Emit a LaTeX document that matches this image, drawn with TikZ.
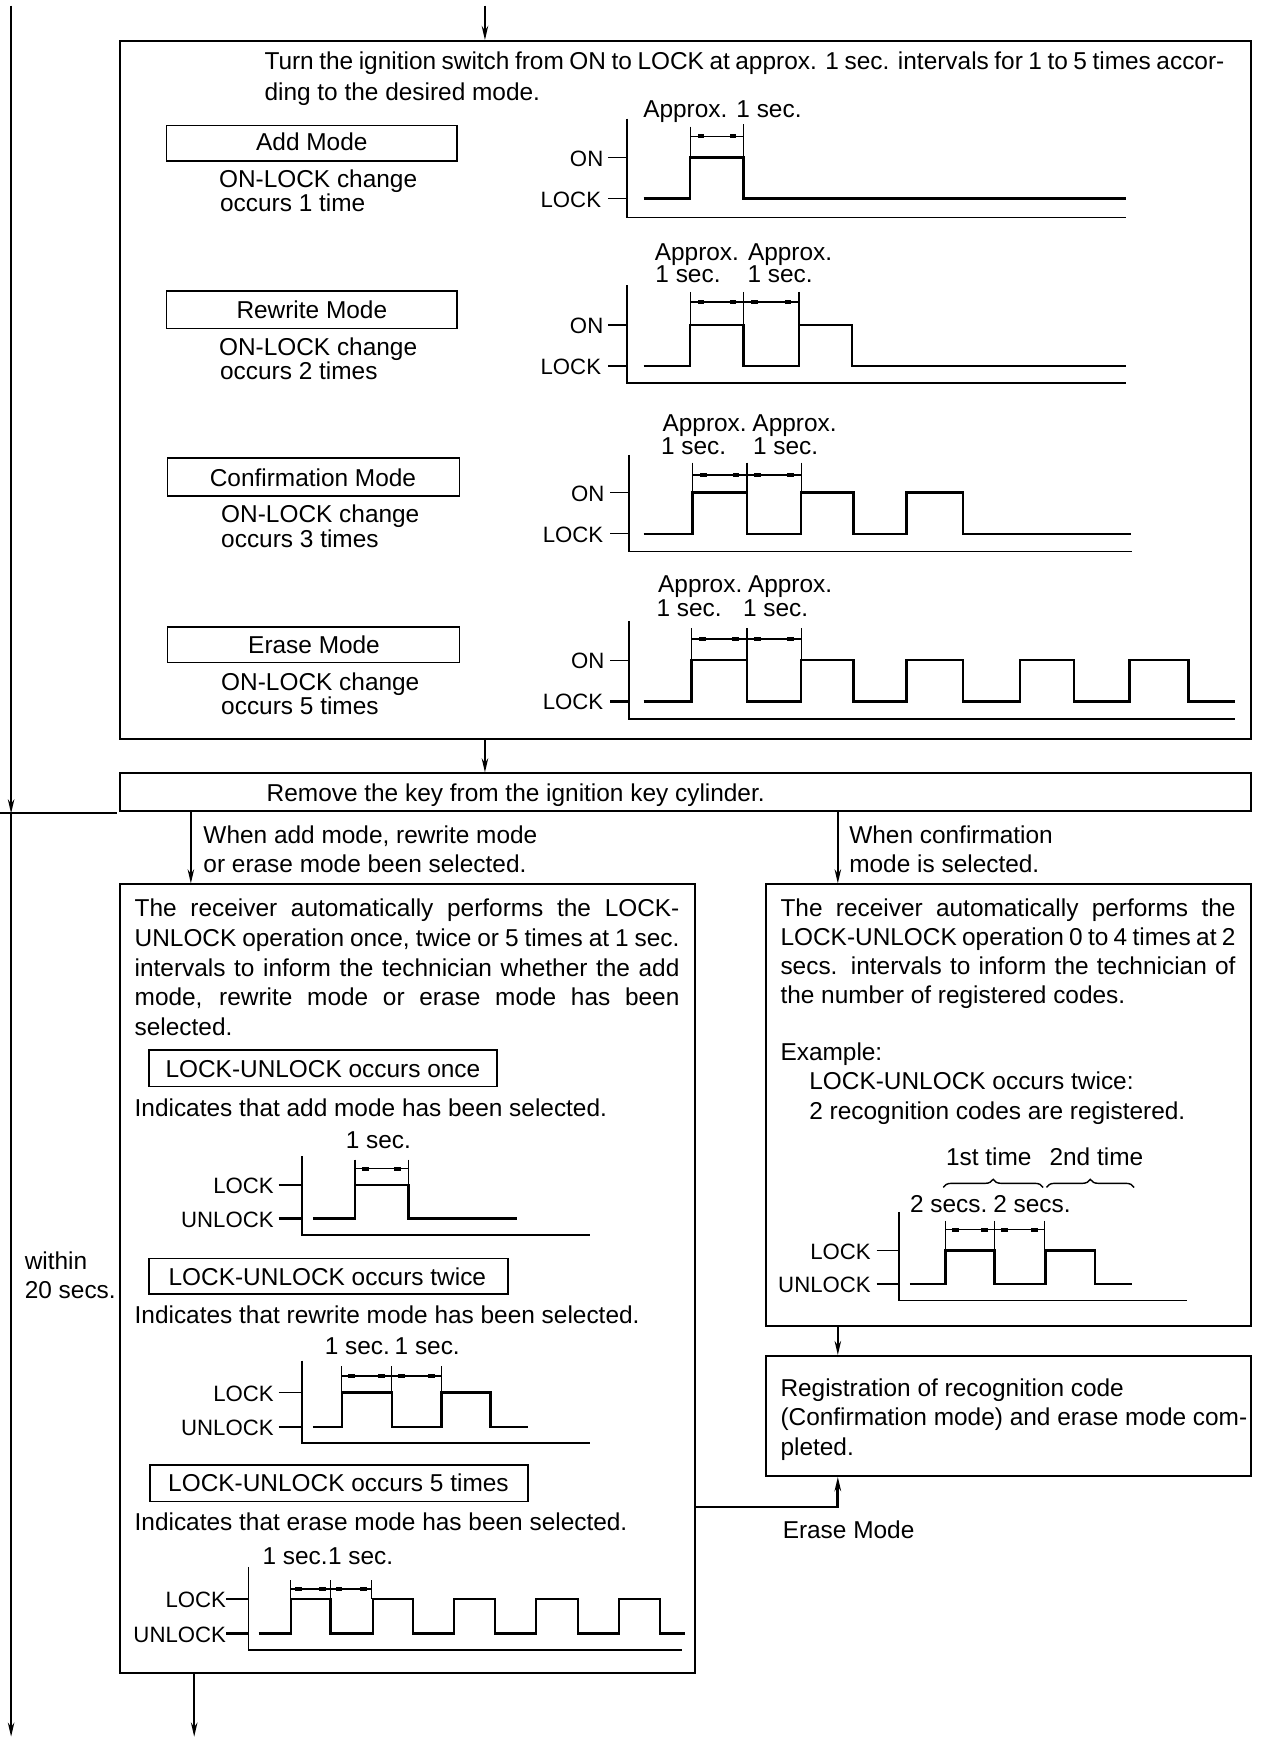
\documentclass[tikz,border=0pt]{standalone}
\usepackage{fontspec}
\setmainfont{Liberation Sans}
\usetikzlibrary{arrows.meta,fit,decorations.pathreplacing}
\newcommand\dimline[3]{% y, x1, x2
  \draw[tick] (#2,#1) -- (#3,#1);
  \fill ({#2+0.2*(#3-#2)-3},{#1-1.8}) rectangle ++(6,3.6);
  \fill ({#2+0.8*(#3-#2)-3},{#1-1.8}) rectangle ++(6,3.6);
}
\newcommand\jl[2]{\makebox[#1][s]{#2}}
\begin{document}
\begin{tikzpicture}[x=0.55pt,y=-0.55pt,
  font=\fontsize{12.1}{14}\selectfont,
  bx/.style={draw, line width=1pt, inner sep=0pt},
  sbx/.style={draw, line width=0.8pt, inner sep=0pt},
  arr/.style={line width=1pt, -{Stealth[length=7pt,width=3.2pt]}},
  wave/.style={line width=1.2pt},
  axis/.style={line width=0.9pt},
  tick/.style={line width=0.7pt},
  txt/.style={inner sep=0pt, anchor=base west, yshift=-1.1pt},
  ctxt/.style={inner sep=0pt, anchor=base, yshift=-1.1pt},
  lab/.style={inner sep=0pt, anchor=east, yshift=-0.5pt, font=\fontsize{11}{13}\selectfont},
]
\useasboundingbox (0,0) rectangle (1139,1568);
\fill[white] (0,0) rectangle (1139,1568);

% ---------- main boxes ----------
\node[bx, fit={(108,37) (1127,666)}] (top) {};
\node[bx, fit={(108,697) (1127,731)}] (rem) {};
\node[bx, fit={(108,797) (626,1508)}] (lbox) {};
\node[bx, fit={(690,797) (1127,1195)}] (rbox) {};
\node[bx, fit={(690,1222) (1127,1330)}] (reg) {};

% ---------- connectors ----------
\coordinate (start) at (437,5);
\coordinate (cx) at (437,0);
\coordinate (lx) at (172,0);
\coordinate (rx) at (755,0);
\draw[arr] (start) -- (top.north -| cx);
\draw[arr] (top.south -| cx) -- (rem.north -| cx);
\draw[arr] (rem.south -| lx) -- (lbox.north -| lx);
\draw[arr] (rem.south -| rx) -- (rbox.north -| rx);
\draw[arr] (rbox.south -| rx) -- (reg.north -| rx);
\coordinate (ebend) at (755,1358);
\draw[arr, line width=1.4pt] (lbox.east |- ebend) -- (ebend) -- (reg.south -| rx);
\coordinate (lend) at (175,1565);
\draw[arr] (lbox.south -| lend) -- (lend);
\coordinate (L0) at (10,5);
\coordinate (L1) at (10,733);
\coordinate (L2) at (10,1565);
\draw[arr] (L0) -- (L1);
\draw[arr] (L1) -- (L2);
\coordinate (H0) at (0,733);
\coordinate (H1) at (105,733);
\draw[line width=1pt] (H0) -- (H1);

% ---------- top box texts ----------
\node[txt] (t1) at (238,61) {\jl{475.75pt}{Turn the ignition switch from ON to LOCK at approx. 1 sec. intervals for 1 to 5 times accor-}};
\node[txt] (t2) at (238,89) {ding to the desired mode.};

% mode boxes
\node[sbx, fit={(150,113) (412,145)}] (m1) {};
\node[ctxt] (m1t) at (281,134) {Add Mode};
\node[txt] (m1a) at (197,167) {ON-LOCK change};
\node[txt] (m1b) at (198,189) {occurs 1 time};

\node[sbx, fit={(150,262) (412,296)}] (m2) {};
\node[ctxt] (m2t) at (281,285) {Rewrite Mode};
\node[txt] (m2a) at (197,318) {ON-LOCK change};
\node[txt] (m2b) at (198,340) {occurs 2 times};

\node[sbx, fit={(151,413) (414,447)}] (m3) {};
\node[ctxt] (m3t) at (282,436) {Confirmation Mode};
\node[txt] (m3a) at (199,469) {ON-LOCK change};
\node[txt] (m3b) at (199,491) {occurs 3 times};

\node[sbx, fit={(151,565) (414,597)}] (m4) {};
\node[ctxt] (m4t) at (283,587) {Erase Mode};
\node[txt] (m4a) at (199,620) {ON-LOCK change};
\node[txt] (m4b) at (199,642) {occurs 5 times};

% chart 1 (add)
\node[lab] (c1on) at (544,142) {ON};
\node[lab] (c1lk) at (542,179) {LOCK};
\draw[tick] (548,142) -- (565,142) (548,179) -- (565,179);
\draw[axis] (565,107) -- (565,196) -- (1015,196);
\draw[wave] (580,179) -- (622,179) -- (622,142) -- (670,142) -- (670,179) -- (1015,179);
\draw[tick] (622,114) -- (622,142) (670,112) -- (670,142);
\dimline{123}{622}{670}
\node[ctxt] (c1d) at (651,104) {Approx. 1 sec.};

% chart 2 (rewrite)
\node[lab] (c2on) at (544,293) {ON};
\node[lab] (c2lk) at (542,330) {LOCK};
\draw[tick] (548,293) -- (565,293) (548,330) -- (565,330);
\draw[axis] (565,257) -- (565,345) -- (1015,345);
\draw[wave] (580,330) -- (622,330) -- (622,293) -- (670,293) -- (670,330) -- (720,330) -- (720,293) -- (768,293) -- (768,330) -- (1015,330);
\draw[tick] (622,263) -- (622,293) (670,263) -- (670,293) (720,263) -- (720,293);
\dimline{272}{622}{670}
\dimline{272}{670}{720}
\node[ctxt] (c2a) at (628,233) {Approx.};
\node[ctxt] (c2b) at (712,233) {Approx.};
\node[ctxt] (c2c) at (620,253) {1 sec.};
\node[ctxt] (c2e) at (703,253) {1 sec.};

% chart 3 (confirmation)
\node[lab] (c3on) at (545,444) {ON};
\node[lab] (c3lk) at (544,481) {LOCK};
\draw[tick] (550,444) -- (567,444) (550,481) -- (567,481);
\draw[axis] (567,410) -- (567,497) -- (1020,497);
\draw[wave] (580,481) -- (624,481) -- (624,444) -- (673,444) -- (673,481) -- (722,481) -- (722,444) -- (769,444) -- (769,481) -- (817,481) -- (817,444) -- (868,444) -- (868,481) -- (1019,481);
\draw[tick] (624,417) -- (624,444) (673,417) -- (673,444) (722,417) -- (722,444);
\dimline{428}{624}{673}
\dimline{428}{673}{722}
\node[ctxt] (c3a) at (635,387) {Approx.};
\node[ctxt] (c3b) at (716,387) {Approx.};
\node[ctxt] (c3c) at (625,408) {1 sec.};
\node[ctxt] (c3e) at (708,408) {1 sec.};

% chart 4 (erase)
\node[lab] (c4on) at (545,595) {ON};
\node[lab] (c4lk) at (544,632) {LOCK};
\draw[tick] (550,595) -- (567,595);
\draw[wave] (550,632) -- (567,632);
\draw[axis] (567,560) -- (567,648) -- (1113,648);
\draw[wave] (580,632) -- (623,632) -- (623,595) -- (673,595) -- (673,632) -- (722,632) -- (722,595) -- (769,595) -- (769,632) -- (817,632) -- (817,595) -- (868,595) -- (868,632) -- (919,632) -- (919,595) -- (968,595) -- (968,632) -- (1018,632) -- (1018,595) -- (1071,595) -- (1071,632) -- (1113,632);
\draw[tick] (623,566) -- (623,595) (673,566) -- (673,595) (722,566) -- (722,595);
\dimline{576}{623}{673}
\dimline{576}{673}{722}
\node[ctxt] (c4a) at (631,532) {Approx.};
\node[ctxt] (c4b) at (712,532) {Approx.};
\node[ctxt] (c4c) at (621,554) {1 sec.};
\node[ctxt] (c4e) at (699,554) {1 sec.};

% ---------- remove box text ----------
\node[txt] (remt) at (240,720) {Remove the key from the ignition key cylinder.};

% branch labels
\node[txt] (bl1) at (183,758) {When add mode, rewrite mode};
\node[txt] (bl2) at (183,784) {or erase mode been selected.};
\node[txt] (br1) at (765,758) {When confirmation};
\node[txt] (br2) at (765,784) {mode is selected.};

% within 20 secs
\node[txt] (w1) at (22,1142) {within};
\node[txt] (w2) at (22,1168) {20 secs.};

% ---------- left box ----------
\node[txt] (p1) at (121,824) {\jl{270pt}{The receiver automatically performs the LOCK-}};
\node[txt] (p2) at (121,851) {\jl{270pt}{UNLOCK operation once, twice or 5 times at 1 sec.}};
\node[txt] (p3) at (121,878) {\jl{270pt}{intervals to inform the technician whether the add}};
\node[txt] (p4) at (121,904) {\jl{270pt}{mode, rewrite mode or erase mode has been}};
\node[txt] (p5) at (121,931) {selected.};

\node[sbx, fit={(134,946) (448,979)}] (s1) {};
\node[ctxt] (s1t) at (291,969) {LOCK-UNLOCK occurs once};
\node[txt] (i1) at (121,1004) {Indicates that add mode has been selected.};

% chart A
\node[lab] (calk) at (247,1068) {LOCK};
\node[lab] (caun) at (247,1098) {UNLOCK};
\draw[tick] (251,1068) -- (272,1068);
\draw[wave] (251,1098) -- (272,1098);
\draw[axis] (272,1042) -- (272,1113) -- (532,1113);
\draw[wave] (282,1098) -- (320,1098) -- (320,1068) -- (368,1068) -- (368,1098) -- (466,1098);
\draw[tick] (320,1045) -- (320,1068) (368,1045) -- (368,1068);
\dimline{1053}{320}{368}
\node[ctxt] (cat) at (341,1033) {1 sec.};

\node[sbx, fit={(134,1134) (458,1166)}] (s2) {};
\node[ctxt] (s2t) at (295,1156) {LOCK-UNLOCK occurs twice};
\node[txt] (i2) at (121,1191) {Indicates that rewrite mode has been selected.};

% chart B
\node[lab] (cblk) at (247,1255) {LOCK};
\node[lab] (cbun) at (247,1286) {UNLOCK};
\draw[tick] (251,1255) -- (272,1255) (251,1286) -- (272,1286);
\draw[axis] (272,1226) -- (272,1300) -- (532,1300);
\draw[wave] (282,1286) -- (308,1286) -- (308,1255) -- (353,1255) -- (353,1286) -- (398,1286) -- (398,1255) -- (442,1255) -- (442,1286) -- (476,1286);
\draw[tick] (308,1231) -- (308,1255) (353,1231) -- (353,1255) (398,1231) -- (398,1255);
\dimline{1240}{308}{353}
\dimline{1240}{353}{398}
\node[ctxt] (cbt1) at (322,1219) {1 sec.};
\node[ctxt] (cbt2) at (385,1219) {1 sec.};

\node[sbx, fit={(135,1320) (476,1353)}] (s3) {};
\node[ctxt] (s3t) at (305,1342) {LOCK-UNLOCK occurs 5 times};
\node[txt] (i3) at (121,1377) {Indicates that erase mode has been selected.};

% chart C
\node[lab] (cclk) at (204,1441) {LOCK};
\node[lab] (ccun) at (204,1472) {UNLOCK};
\draw[wave] (204,1441) -- (224,1441) (204,1472) -- (224,1472);
\draw[axis] (224,1412) -- (224,1487) -- (615,1487);
\draw[wave] (233,1472) -- (262,1472) -- (262,1441) -- (298,1441) -- (298,1472) -- (336,1472) -- (336,1441) -- (372,1441) -- (372,1472) -- (409,1472) -- (409,1441) -- (446,1441) -- (446,1472) -- (483,1472) -- (483,1441) -- (521,1441) -- (521,1472) -- (558,1472) -- (558,1441) -- (595,1441) -- (595,1472) -- (617,1472);
\draw[tick] (262,1424) -- (262,1441) (298,1424) -- (298,1441) (335,1424) -- (335,1441);
\dimline{1432}{262}{298}
\dimline{1432}{298}{335}
\node[ctxt] (cct1) at (266,1408) {1 sec.};
\node[ctxt] (cct2) at (325,1408) {1 sec.};

% ---------- right box ----------
\node[txt] (q1) at (703,824) {\jl{225.5pt}{The receiver automatically performs the}};
\node[txt] (q2) at (703,850) {\jl{225.5pt}{LOCK-UNLOCK operation 0 to 4 times at 2}};
\node[txt] (q3) at (703,876) {\jl{225.5pt}{secs. intervals to inform the technician of}};
\node[txt] (q4) at (703,902) {the number of registered codes.};
\node[txt] (q5) at (703,954) {Example:};
\node[txt] (q6) at (729,980) {LOCK-UNLOCK occurs twice:};
\node[txt] (q7) at (729,1007) {2 recognition codes are registered.};

\node[ctxt] (dt1) at (891,1048) {1st time};
\node[ctxt] (dt2) at (988,1048) {2nd time};
\draw[tick, decorate, decoration={brace, amplitude=4pt}] (850,1070) -- (940,1070);
\draw[tick, decorate, decoration={brace, amplitude=4pt}] (943,1070) -- (1022,1070);
\node[ctxt] (ds1) at (855,1091) {2 secs.};
\node[ctxt] (ds2) at (930,1091) {2 secs.};

\node[lab] (cdlk) at (785,1127) {LOCK};
\node[lab] (cdun) at (785,1157) {UNLOCK};
\draw[tick] (790,1127) -- (810,1127) (790,1157) -- (810,1157);
\draw[axis] (810,1092) -- (810,1172) -- (1070,1172);
\draw[wave] (820,1157) -- (852,1157) -- (852,1127) -- (896,1127) -- (896,1157) -- (942,1157) -- (942,1127) -- (987,1127) -- (987,1157) -- (1020,1157);
\draw[tick] (852,1100) -- (852,1127) (896,1100) -- (896,1127) (941,1100) -- (941,1127);
\dimline{1108}{852}{896}
\dimline{1108}{896}{941}

\node[txt] (r1) at (703,1256) {Registration of recognition code};
\node[txt] (r2) at (703,1283) {(Confirmation mode) and erase mode com-};
\node[txt] (r3) at (703,1310) {pleted.};

\node[txt] (em) at (705,1384) {Erase Mode};
\end{tikzpicture}
\end{document}
